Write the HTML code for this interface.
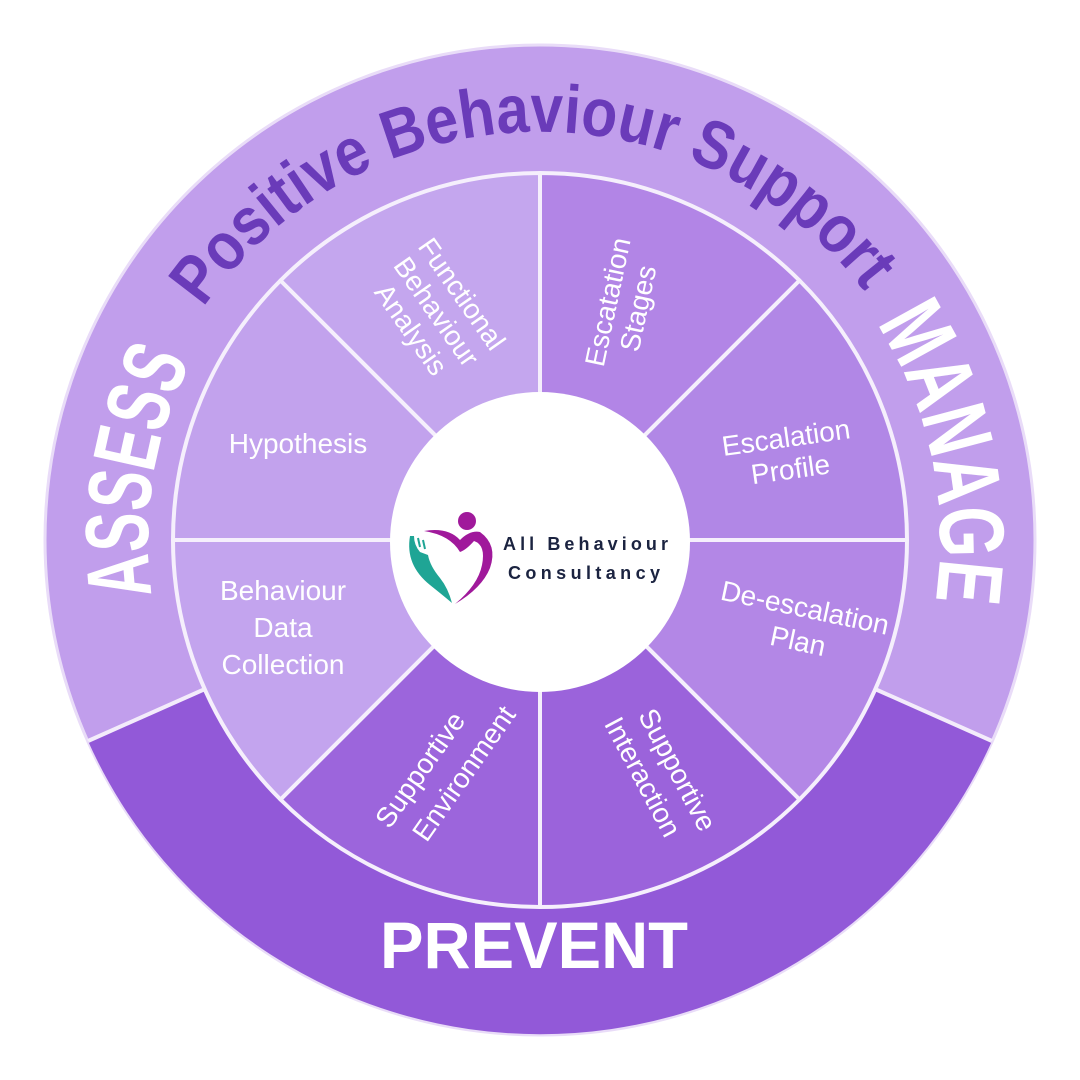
<!DOCTYPE html>
<html><head><meta charset="utf-8"><style>
html,body{margin:0;padding:0;background:#fff;width:1080px;height:1080px;overflow:hidden}
svg{display:block}
.lbl{font-family:"Liberation Sans",sans-serif;font-size:28px;fill:#fff;text-anchor:middle}
.big{font-family:"Liberation Sans",sans-serif;font-weight:bold;fill:#fff}
</style></head><body>
<svg width="1080" height="1080" viewBox="0 0 1080 1080" xmlns="http://www.w3.org/2000/svg">
<defs>
<path id="pTop" d="M155.3,400 A410,410 0 0 1 924.7,400"/>
<path id="pAssess" d="M161.4,641.5 A392,392 0 0 1 218.9,315.2"/>
<path id="pManage" d="M846.4,282.9 A400,400 0 0 1 924.5,650.3"/>
</defs>
<circle cx="540" cy="540" r="495" fill="#c19eec" stroke="#e9dcf8" stroke-width="3"/>
<path d="M992,741 A495,495 0 0 1 88,741 L540,540 Z" fill="#9259d8"/>
<line x1="88" y1="741" x2="205" y2="689" stroke="#f3ecfb" stroke-width="4"/>
<line x1="992" y1="741" x2="875" y2="689" stroke="#f3ecfb" stroke-width="4"/>
<g stroke="#f5effc" stroke-width="4" stroke-linejoin="round">
<path d="M540,540 L540,173 A367,367 0 0 1 799.5,280.5 Z" fill="#b285e6"/>
<path d="M540,540 L799.5,280.5 A367,367 0 0 1 907,540 Z" fill="#b187e6"/>
<path d="M540,540 L907,540 A367,367 0 0 1 799.5,799.5 Z" fill="#b387e6"/>
<path d="M540,540 L799.5,799.5 A367,367 0 0 1 540,907 Z" fill="#9b63db"/>
<path d="M540,540 L540,907 A367,367 0 0 1 280.5,799.5 Z" fill="#9c65dc"/>
<path d="M540,540 L280.5,799.5 A367,367 0 0 1 173,540 Z" fill="#c3a4ee"/>
<path d="M540,540 L173,540 A367,367 0 0 1 280.5,280.5 Z" fill="#c2a2ed"/>
<path d="M540,540 L280.5,280.5 A367,367 0 0 1 540,173 Z" fill="#c4a6ee"/>
</g>
<circle cx="540" cy="542" r="150" fill="#fff"/>
<text font-family="Liberation Sans, sans-serif" font-weight="bold" font-size="68" fill="#6a3bb9"><textPath href="#pTop" startOffset="49%" text-anchor="middle" textLength="770" lengthAdjust="spacingAndGlyphs">Positive Behaviour Support</textPath></text>
<text class="big" font-size="90"><textPath href="#pAssess" startOffset="49%" text-anchor="middle" textLength="240" lengthAdjust="spacingAndGlyphs">ASSESS</textPath></text>
<text class="big" font-size="92"><textPath href="#pManage" startOffset="50%" text-anchor="middle" textLength="290" lengthAdjust="spacingAndGlyphs">MANAGE</textPath></text>
<text class="big" font-size="66" x="380" y="968" textLength="308" lengthAdjust="spacingAndGlyphs">PREVENT</text>
<g transform="translate(436,312) rotate(55)">
<text class="lbl" x="0" y="-22">Functional</text>
<text class="lbl" x="0" y="9">Behaviour</text>
<text class="lbl" x="0" y="40">Analysis</text>
</g>
<g transform="translate(622,305) rotate(-78)">
<text class="lbl" x="0" y="-5">Escatation</text>
<text class="lbl" x="0" y="26">Stages</text>
</g>
<text class="lbl" x="298" y="453">Hypothesis</text>
<g transform="translate(788,452) rotate(-8)">
<text class="lbl" x="0" y="-5">Escalation</text>
<text class="lbl" x="0" y="27">Profile</text>
</g>
<text class="lbl" x="283" y="600">Behaviour</text>
<text class="lbl" x="283" y="637">Data</text>
<text class="lbl" x="283" y="674">Collection</text>
<g transform="translate(802,622) rotate(12)">
<text class="lbl" x="0" y="-5">De-escalation</text>
<text class="lbl" x="0" y="29">Plan</text>
</g>
<g transform="translate(432,778) rotate(-55)">
<text class="lbl" x="0" y="-5">Supportive</text>
<text class="lbl" x="22" y="33">Environment</text>
</g>
<g transform="translate(662,778) rotate(62)">
<text class="lbl" x="0" y="-8">Supportive</text>
<text class="lbl" x="-10" y="26">Interaction</text>
</g>
<circle cx="467" cy="521" r="9" fill="#a0199b"/>
<path d="M424,531 Q448,527 460,540 Q470,530 480,532 Q498,545 490,568 Q482,588 455,604 Q478,585 482,565 Q486,545 474,541 Q466,550 460,552 Q450,535 424,531 Z" fill="#a0199b"/>
<path d="M410,536 Q405,565 430,585 Q445,597 452,603 Q448,588 440,578 Q430,566 428,555 L420,552 Q414,545 414,536 Z" fill="#1fa595"/>
<path d="M418,538 L420,547 M423,540 L425,549" stroke="#1fa595" stroke-width="2"/>
<text x="503" y="550" font-family="Liberation Sans, sans-serif" font-weight="bold" font-size="18" fill="#1b2340" textLength="165" lengthAdjust="spacing">All Behaviour</text>
<text x="508" y="579" font-family="Liberation Sans, sans-serif" font-weight="bold" font-size="18" fill="#1b2340" textLength="152" lengthAdjust="spacing">Consultancy</text>
</svg>
</body></html>
